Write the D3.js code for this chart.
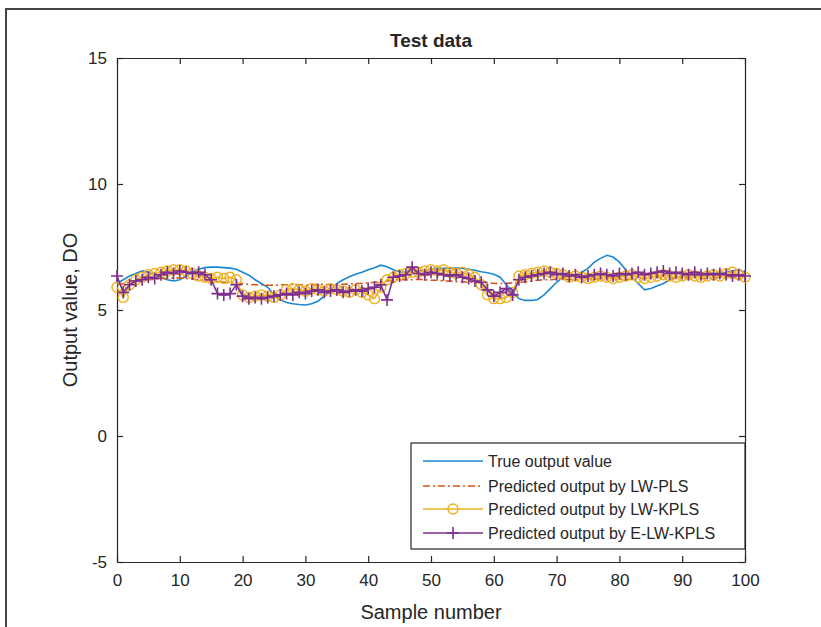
<!DOCTYPE html>
<html>
<head>
<meta charset="utf-8">
<script src="https://cdn.jsdelivr.net/npm/d3@7/dist/d3.min.js"></script>
<style>
  body { margin: 0; background: #fff; }
  text { font-family: "Liberation Sans", Arial, sans-serif; fill: #262626; }
</style>
</head>
<body>
<svg id="chart"></svg>
<script>
// values, one per sample (0..100)
const trueOutput = [
  6.05, 6.2, 6.35, 6.45, 6.55, 6.5, 6.4, 6.3, 6.2, 6.15,
  6.2, 6.35, 6.5, 6.62, 6.68, 6.7, 6.7, 6.68, 6.66, 6.62,
  6.5, 6.38, 6.2, 6.05, 5.9, 5.6, 5.4, 5.3, 5.25, 5.22,
  5.2, 5.25, 5.35, 5.55, 5.8, 6.05, 6.2, 6.32, 6.42, 6.5,
  6.6, 6.68, 6.78, 6.72, 6.6, 6.52, 6.5, 6.55, 6.55, 6.57,
  6.6, 6.63, 6.65, 6.65, 6.66, 6.65, 6.62, 6.58, 6.52, 6.48,
  6.42, 6.3, 6.0, 5.7, 5.45, 5.38, 5.38, 5.42, 5.6, 5.85,
  6.1, 6.3, 6.35, 6.4, 6.5, 6.65, 6.9, 7.05, 7.17, 7.1,
  6.9, 6.6, 6.3, 6.05, 5.8, 5.85, 5.95, 6.05, 6.2, 6.3,
  6.35, 6.38, 6.38, 6.4, 6.4, 6.42, 6.45, 6.5, 6.55, 6.6,
  6.5
];
const lwPls = [
  6.0, 6.05, 6.1, 6.15, 6.2, 6.2, 6.22, 6.25, 6.25, 6.27,
  6.28, 6.25, 6.22, 6.2, 6.18, 6.15, 6.12, 6.1, 6.08, 6.06,
  6.05, 6.02, 6.0, 6.0, 5.98, 5.98, 6.0, 6.0, 6.02, 6.0,
  5.98, 6.0, 6.02, 6.02, 6.0, 6.0, 6.02, 6.03, 6.05, 6.05,
  6.07, 6.1, 6.12, 6.15, 6.18, 6.2, 6.2, 6.2, 6.22, 6.2,
  6.18, 6.18, 6.15, 6.15, 6.12, 6.12, 6.1, 6.1, 6.08, 6.08,
  6.06, 6.05, 6.05, 6.08, 6.1, 6.12, 6.15, 6.18, 6.2, 6.2,
  6.22, 6.22, 6.2, 6.22, 6.25, 6.25, 6.22, 6.25, 6.28, 6.25,
  6.22, 6.2, 6.22, 6.25, 6.25, 6.28, 6.3, 6.28, 6.25, 6.25,
  6.28, 6.3, 6.28, 6.25, 6.25, 6.28, 6.3, 6.3, 6.28, 6.27,
  6.25
];
const lwKpls = [
  5.9, 5.5, 6.0, 6.2, 6.3, 6.4, 6.45, 6.5, 6.55, 6.6,
  6.6, 6.55, 6.45, 6.35, 6.3, 6.25, 6.3, 6.25, 6.3, 6.2,
  5.6, 5.5, 5.55, 5.6, 5.55, 5.5, 5.6, 5.8, 5.85, 5.8,
  5.75, 5.85, 5.8, 5.75, 5.85, 5.8, 5.75, 5.7, 5.8, 5.7,
  5.6, 5.45, 5.9, 6.2, 6.3, 6.4, 6.45, 6.5, 6.5, 6.55,
  6.6, 6.55, 6.6, 6.5, 6.45, 6.5, 6.4, 6.3, 6.0, 5.6,
  5.45, 5.45, 5.5, 5.7, 6.35, 6.4, 6.45, 6.5, 6.55, 6.5,
  6.45, 6.4, 6.3, 6.35, 6.3, 6.25, 6.3, 6.35, 6.3, 6.25,
  6.3, 6.35, 6.4, 6.3, 6.25, 6.3, 6.35, 6.4, 6.35, 6.3,
  6.35, 6.4, 6.35, 6.3, 6.35, 6.4, 6.35, 6.45, 6.5, 6.4,
  6.3
];
const eLwKpls = [
  6.35, 5.7, 6.0, 6.15, 6.2, 6.3, 6.25, 6.4, 6.5, 6.45,
  6.55, 6.5, 6.45, 6.5, 6.4, 6.2, 5.65, 5.6, 5.65, 6.0,
  5.55, 5.45, 5.5, 5.45, 5.5, 5.55, 5.6, 5.65, 5.6, 5.7,
  5.65, 5.75, 5.8, 5.7, 5.75, 5.8, 5.7, 5.75, 5.8, 5.75,
  5.85, 5.9, 6.0, 5.4, 6.3, 6.35, 6.4, 6.7, 6.45, 6.4,
  6.5, 6.45, 6.4, 6.35, 6.4, 6.3, 6.25, 6.15, 6.1, 5.8,
  5.55, 5.7, 5.85, 5.6, 6.2, 6.3, 6.35, 6.4, 6.45, 6.5,
  6.4, 6.45, 6.35, 6.4, 6.3, 6.35, 6.4, 6.45, 6.4, 6.35,
  6.45, 6.4, 6.45, 6.5, 6.4, 6.45, 6.5, 6.55, 6.45, 6.5,
  6.45, 6.4, 6.5, 6.4, 6.45, 6.4, 6.45, 6.4, 6.35, 6.4,
  6.35
];
const xTicks = [0, 10, 20, 30, 40, 50, 60, 70, 80, 90, 100];
const yTicks = [-5, 0, 5, 10, 15];
const seriesNames = [
  'True output value',
  'Predicted output by LW-PLS',
  'Predicted output by LW-KPLS',
  'Predicted output by E-LW-KPLS'
];

const W = 821, H = 627;
const margin = { top: 58, left: 117, right: 76, bottom: 65 };
const width = W - margin.left - margin.right;
const height = H - margin.top - margin.bottom;
const axisColor = '#262626';
const colors = ['#1b87d2', '#D95319', '#EDB120', '#7E2F8E'];

const svg = d3.select('#chart').attr('width', W).attr('height', H);

// outer frame of the screenshot
svg.append('rect')
  .attr('x', 6).attr('y', 9)
  .attr('width', W).attr('height', H)
  .attr('fill', 'none')
  .attr('stroke', '#444')
  .attr('stroke-width', 2);

const chart = svg.append('g')
  .attr('transform', `translate(${margin.left},${margin.top})`);

const xScale = d3.scaleLinear().domain([0, 100]).range([0, width]);
const yScale = d3.scaleLinear().domain([-5, 15]).range([height, 0]);

// axes: ticks point inward, box on all four sides
const tickLen = 6;
const plain = d => String(d); // keep the ascii hyphen for -5
const xAxis = d3.axisBottom(xScale).tickValues(xTicks).tickSizeInner(-tickLen).tickSizeOuter(0).tickPadding(12).tickFormat(plain);
const yAxis = d3.axisLeft(yScale).tickValues(yTicks).tickSizeInner(-tickLen).tickSizeOuter(0).tickPadding(10).tickFormat(plain);
const xTop = d3.axisTop(xScale).tickValues(xTicks).tickSizeInner(-tickLen).tickSizeOuter(0).tickFormat('');
const yRight = d3.axisRight(yScale).tickValues(yTicks).tickSizeInner(-tickLen).tickSizeOuter(0).tickFormat('');

const gx = chart.append('g').attr('transform', `translate(0,${height})`).call(xAxis);
const gy = chart.append('g').call(yAxis);
const gt = chart.append('g').call(xTop);
const gr = chart.append('g').attr('transform', `translate(${width},0)`).call(yRight);

[gx, gy, gt, gr].forEach(g => {
  g.select('.domain').attr('stroke', axisColor).attr('stroke-width', 1.2);
  g.selectAll('.tick line').attr('stroke', axisColor).attr('stroke-width', 1.2);
  g.selectAll('.tick text')
    .attr('font-family', '"Liberation Sans", Arial, sans-serif')
    .attr('font-size', 17)
    .attr('fill', axisColor);
});

// series lines
const line = d3.line()
  .x((d, i) => xScale(i))
  .y(d => yScale(d));

chart.append('path')
  .datum(trueOutput)
  .attr('d', line)
  .attr('fill', 'none')
  .attr('stroke', colors[0])
  .attr('stroke-width', 1.6);

chart.append('path')
  .datum(lwPls)
  .attr('d', line)
  .attr('fill', 'none')
  .attr('stroke', colors[1])
  .attr('stroke-width', 1.6)
  .attr('stroke-dasharray', '7,3,2,3');

chart.append('path')
  .datum(lwKpls)
  .attr('d', line)
  .attr('fill', 'none')
  .attr('stroke', colors[2])
  .attr('stroke-width', 1.6);

chart.append('g').selectAll('circle')
  .data(lwKpls)
  .join('circle')
  .attr('cx', (d, i) => xScale(i))
  .attr('cy', d => yScale(d))
  .attr('r', 5)
  .attr('fill', 'none')
  .attr('stroke', colors[2])
  .attr('stroke-width', 1.4);

chart.append('path')
  .datum(eLwKpls)
  .attr('d', line)
  .attr('fill', 'none')
  .attr('stroke', colors[3])
  .attr('stroke-width', 1.6);

// '+' markers
chart.append('g').selectAll('path')
  .data(eLwKpls)
  .join('path')
  .attr('d', (d, i) => `M${xScale(i) - 6},${yScale(d)}h12M${xScale(i)},${yScale(d) - 6}v12`)
  .attr('fill', 'none')
  .attr('stroke', colors[3])
  .attr('stroke-width', 1.6);

// title and axis labels
svg.append('text')
  .attr('x', margin.left + width / 2)
  .attr('y', 47)
  .attr('text-anchor', 'middle')
  .attr('font-size', 19)
  .attr('font-weight', 'bold')
  .text('Test data');

svg.append('text')
  .attr('x', margin.left + width / 2)
  .attr('y', 619)
  .attr('text-anchor', 'middle')
  .attr('font-size', 20)
  .text('Sample number');

svg.append('text')
  .attr('transform', `translate(77,${margin.top + height / 2}) rotate(-90)`)
  .attr('text-anchor', 'middle')
  .attr('font-size', 20)
  .text('Output value, DO');

// legend
const legend = svg.append('g').attr('transform', 'translate(411,443)');
legend.append('rect')
  .attr('width', 334).attr('height', 106)
  .attr('fill', '#fff')
  .attr('stroke', axisColor)
  .attr('stroke-width', 1.2);

const rowY = [18, 43, 66, 90];
seriesNames.forEach((name, i) => {
  const row = legend.append('g').attr('transform', `translate(0,${rowY[i]})`);
  const seg = row.append('line')
    .attr('x1', 12).attr('x2', 72)
    .attr('stroke', colors[i])
    .attr('stroke-width', 1.6);
  if (i === 1) seg.attr('stroke-dasharray', '7,3,2,3');
  if (i === 2) {
    row.append('circle').attr('cx', 42).attr('r', 5)
      .attr('fill', 'none').attr('stroke', colors[2]).attr('stroke-width', 1.4);
  }
  if (i === 3) {
    row.append('path').attr('d', 'M36,0h12M42,-6v12')
      .attr('stroke', colors[3]).attr('stroke-width', 1.6);
  }
  row.append('text')
    .attr('x', 77)
    .attr('y', 6)
    .attr('font-size', 16)
    .text(name);
});
</script>
</body>
</html>
